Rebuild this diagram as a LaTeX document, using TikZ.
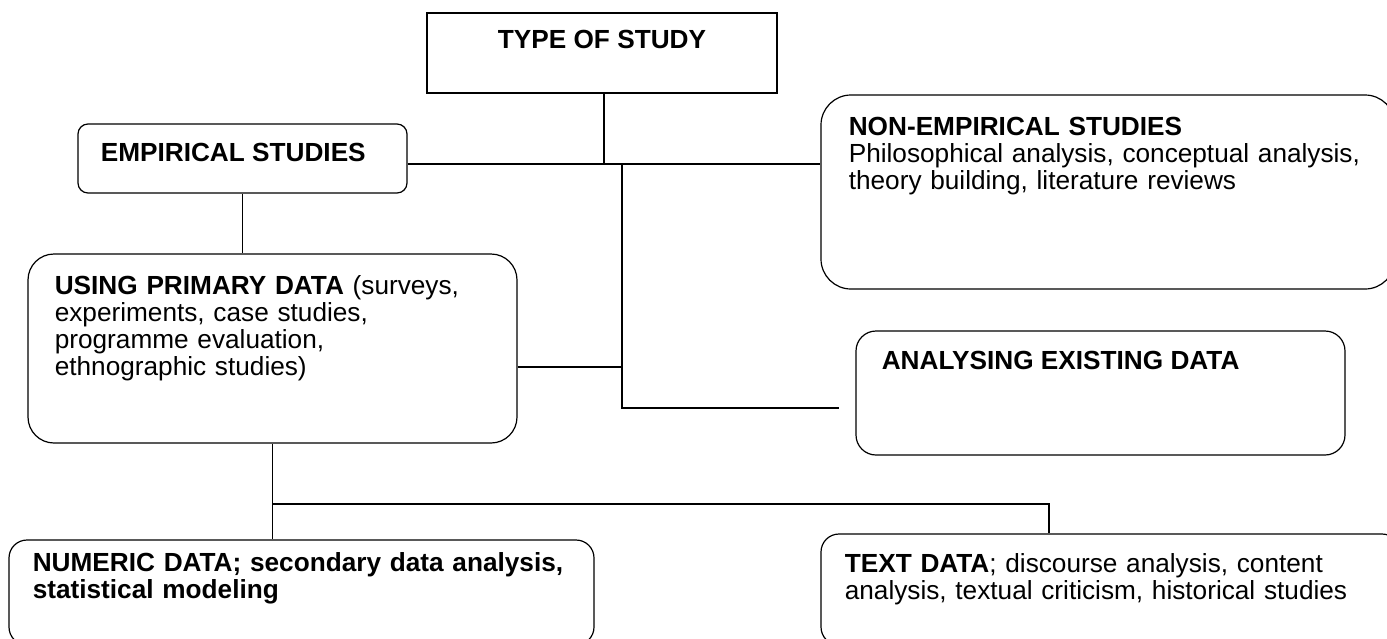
\documentclass[tikz,border=0pt]{standalone}
\usepackage{fontspec}
\setmainfont{Liberation Sans}
\usetikzlibrary{calc,positioning}

\begin{document}
\begin{tikzpicture}[x=0.5pt,y=-0.5pt,
  every node/.style={font=\fontsize{13.1}{13.5}\selectfont},
  plainbox/.style={draw, line width=0.6pt, inner sep=0pt},
  roundbox/.style={plainbox, rounded corners=#1},
  boxtext/.style={anchor=base west, inner sep=0pt, align=left},
  link/.style={line width=0.6pt}]

  \useasboundingbox (0,0) rectangle (1387,638);

  \node [plainbox, minimum width=175pt, minimum height=40pt] (type) at (602,53) {};
  \node [boxtext, anchor=base] (type-t) at ($(type.north)+(0,36)$) {\bfseries TYPE OF STUDY};

  %% first level
  \node [roundbox=5pt, minimum width=164.5pt, minimum height=34.5pt] (emp) at (242.5,158.5) {};
  \node [boxtext] (emp-t) at ($(emp.north west)+(23,38)$) {\bfseries EMPIRICAL STUDIES};

  \node [roundbox=15pt, minimum width=287pt, minimum height=97pt] (non) at (1108,192) {};
  \node [boxtext, text width=260pt] (non-t) at ($(non.north west)+(28,41)$)
    {\textbf{NON-EMPIRICAL STUDIES}\\ Philosophical analysis, conceptual analysis,\\ theory building, literature reviews};

  %% second level
  \node [roundbox=13pt, minimum width=244.5pt, minimum height=94.5pt] (prim) at (272.5,348.5) {};
  \node [boxtext, text width=225pt] (prim-t) at ($(prim.north west)+(27,41)$)
    {\textbf{USING PRIMARY DATA} (surveys,\\ experiments, case studies,\\ programme evaluation,\\ ethnographic studies)};

  \node [roundbox=10pt, minimum width=244.5pt, minimum height=62pt] (anl) at (1100.5,393) {};
  \node [boxtext] (anl-t) at ($(anl.north west)+(26,39)$) {\bfseries ANALYSING EXISTING DATA};

  %% third level
  \node [roundbox=9pt, minimum width=292.5pt, minimum height=52.5pt] (num) at (301.5,592.5) {};
  \node [boxtext, text width=280pt] (num-t) at ($(num.north west)+(24,32)$)
    {\bfseries NUMERIC DATA; secondary data analysis,\\ statistical modeling};

  \node [roundbox=9pt, minimum width=289.5pt, minimum height=55.5pt] (txt) at (1110.5,589.5) {};
  \node [boxtext, text width=270pt] (txt-t) at ($(txt.north west)+(24,39)$)
    {\textbf{TEXT DATA}; discourse analysis, content\\ analysis, textual criticism, historical studies};

  %% connectors
  \coordinate (j1) at (604,164);
  \coordinate (j2) at (622,164);
  \coordinate (j3) at (622,408);
  \coordinate (j4) at (622,367);
  \coordinate (j5) at (1049,504);

  \draw [link] (j1 |- type.south) -- (j1);
  \draw [link] (emp.east |- j1) -- (non.west |- j1);
  \draw [link, shorten >=8pt] (j2) -- (j3) -- (anl.west |- j3);
  \draw [link] (prim.east |- j4) -- (j4);
  \draw [link] (emp.south) -- (emp.south |- prim.north);
  \draw [link] (prim.south) -- (prim.south |- num.north);
  \draw [link] (prim.south |- j5) -- (j5) -- (j5 |- txt.north);

\end{tikzpicture}
\end{document}
